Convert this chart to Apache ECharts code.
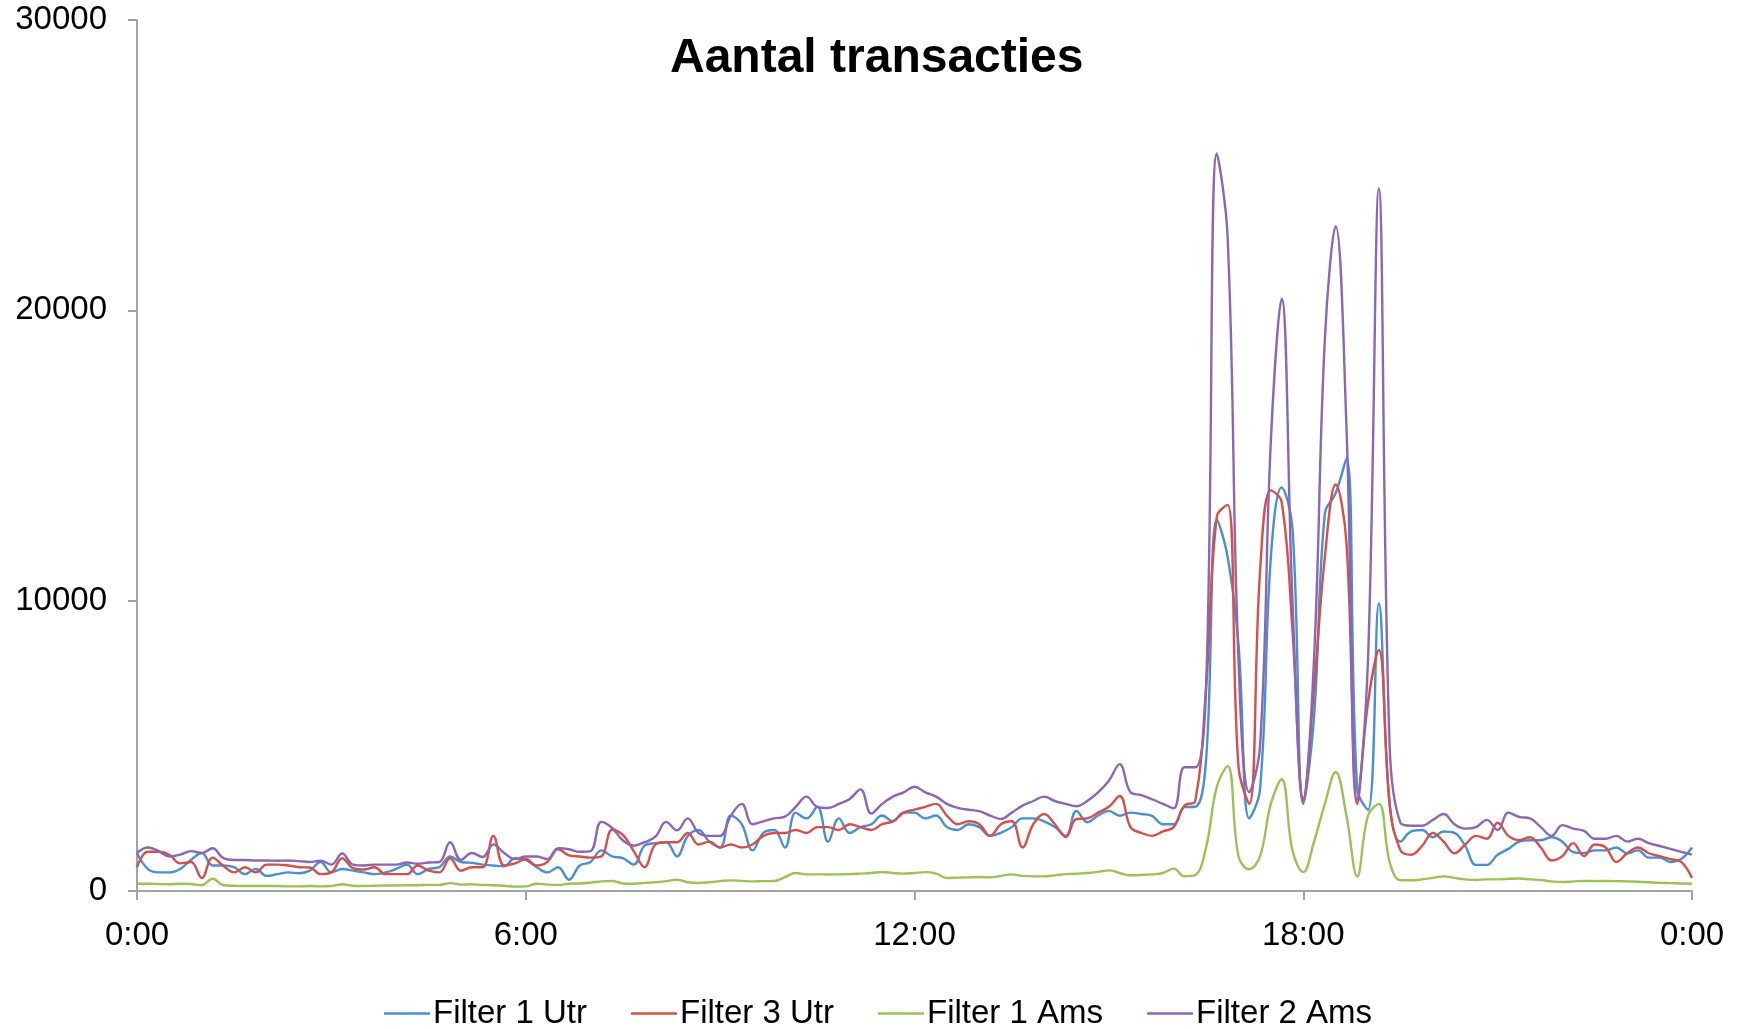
<!DOCTYPE html>
<html>
<head>
<meta charset="utf-8">
<script src="https://cdn.jsdelivr.net/npm/echarts@6/dist/echarts.min.js"></script>
<style>
html,body{margin:0;padding:0;background:#fff;}
#chart{width:1737px;height:1029px;}
</style>
</head>
<body>
<div id="chart"></div>
<script>
// time step: 10 minutes, from 0:00 to 24:00 (145 points)
const stepMinutes = 10;
const xTicks = ['0:00', '6:00', '12:00', '18:00', '0:00'];
const seriesNames = ['Filter 1 Utr', 'Filter 3 Utr', 'Filter 1 Ams', 'Filter 2 Ams'];

const filter1Utr = [
  1310, 760, 640, 640, 760, 1070,
  1310, 880, 880, 820, 580, 760,
  520, 580, 640, 610, 700, 1000,
  640, 760, 700, 640, 580, 640,
  760, 910, 580, 760, 820, 1190,
  1000, 970, 910, 880, 850, 1130,
  1070, 820, 640, 820, 390, 880,
  1000, 1400, 1190, 1130, 910, 1560,
  1650, 1680, 1190, 1890, 2100, 1700,
  1500, 2600, 2300, 1400, 2000, 2100,
  1500, 2700, 2500, 2900, 1700, 2500,
  2000, 2200, 2300, 2600, 2400, 2700,
  2700, 2500, 2600, 2200, 2100, 2300,
  2200, 1900, 2000, 2200, 2500, 2500,
  2400, 2200, 1900, 2760, 2370, 2600,
  2760, 2590, 2700, 2650, 2590, 2300,
  2300, 2890, 2900, 4500, 12800, 11500,
  8500, 2500, 3500, 11500, 13900, 12500,
  3000, 6000, 13000, 13700, 14900, 3500,
  2800, 9900, 3000, 1700, 2050, 2100,
  1850, 2050, 2000, 1550, 900, 900,
  1250, 1450, 1700, 1750, 1750, 1850,
  1700, 1340, 1310, 1400, 1400, 1500,
  1300, 1400, 1150, 1150, 1000, 1100,
  1500
];

const filter3Utr = [
  820, 1350, 1350, 1250, 950, 1000,
  450, 1150, 860, 640, 820, 640,
  910, 910, 880, 820, 810, 580,
  640, 1130, 790, 740, 820, 580,
  580, 580, 880, 700, 640, 1130,
  700, 820, 820, 1900, 880, 950,
  1100, 880, 1000, 1440, 1230, 1190,
  1150, 1190, 2110, 1930, 1375, 820,
  1600, 1680, 1680, 2000, 1600, 1700,
  1500, 1600, 1500, 1600, 1900, 2000,
  2000, 2100, 2000, 2200, 2200, 2100,
  2300, 2200, 2100, 2300, 2400, 2700,
  2800, 2900, 3000, 2600, 2300, 2400,
  2300, 1900, 2300, 2400, 1500, 2300,
  2650, 2300, 1860, 2480, 2500, 2700,
  2900, 3270, 2200, 2000, 1900, 2050,
  2200, 2940, 3100, 7000, 12900, 13300,
  4300, 3000, 11000, 13800, 13400, 9000,
  3100, 7000, 11500, 14000, 12000, 3000,
  6500, 8300, 3000, 1400, 1250, 1550,
  2000, 1700, 1300, 1600, 1900, 1800,
  2350, 1900, 1750, 1850, 1500, 1050,
  1200, 1650, 1200, 1600, 1500, 1000,
  1300, 1500, 1300, 1200, 1100, 1000,
  450
];

const filter1Ams = [
  250, 250, 240, 230, 250, 240,
  200, 420, 200, 180, 170, 170,
  170, 170, 160, 160, 170, 160,
  170, 230, 180, 170, 180, 190,
  190, 200, 200, 210, 210, 270,
  220, 230, 210, 200, 180, 150,
  160, 250, 220, 210, 250, 260,
  290, 330, 344, 260, 250, 280,
  300, 340, 390, 300, 275, 300,
  340, 367, 350, 330, 340, 344,
  480, 620, 574, 574, 570, 574,
  580, 600, 620, 654, 620, 600,
  620, 650, 600, 450, 460, 470,
  480, 470, 520, 574, 520, 505,
  505, 540, 580, 596, 620, 660,
  711, 620, 540, 550, 574, 620,
  770, 505, 550, 1500, 3600, 4300,
  1200, 750, 1200, 3000, 3850, 1400,
  650, 1700, 3000, 4100, 2600, 500,
  2600, 3000, 1000, 370, 370, 400,
  450, 505, 450, 400, 380, 400,
  400, 420, 430, 400, 380, 330,
  310, 330, 350, 340, 344, 340,
  330, 320, 300, 280, 270, 260,
  250
];

const filter2Ams = [
  1310, 1500, 1375, 1190, 1250, 1375,
  1310, 1470, 1130, 1070, 1070, 1050,
  1050, 1040, 1050, 1030, 1000, 1040,
  910, 1290, 910, 880, 910, 910,
  910, 980, 940, 980, 1000, 1680,
  1070, 1310, 1170, 1600, 1310, 1100,
  1190, 1190, 1100, 1470, 1440, 1350,
  1375, 2380, 2170, 1740, 1560, 1680,
  1870, 2380, 2090, 2500, 2000, 1900,
  1900, 2600, 3000, 2300, 2400, 2500,
  2560, 2900, 3250, 2900, 2860, 3000,
  3170, 3500, 2670, 3000, 3250, 3400,
  3590, 3400, 3250, 3000, 2860, 2800,
  2750, 2600, 2480, 2700, 2940, 3100,
  3250, 3100, 3000, 2920, 3100, 3400,
  3800, 4370, 3400, 3300, 3160, 3000,
  2850, 4260, 4260, 7000, 25400, 22500,
  8000, 3400, 5000, 15500, 20400, 10000,
  3200, 8000, 19000, 22900, 16000, 3100,
  8000, 24200, 5000, 2350, 2250, 2250,
  2450, 2650, 2300, 2150, 2200, 2450,
  2100, 2700, 2550, 2500, 2200, 1900,
  2270, 2150, 2070, 1800, 1800, 1900,
  1700, 1800, 1650, 1550, 1450, 1350,
  1250
];

const colors = ['#4A8FCF', '#D5504A', '#9BC257', '#8B67B3'];
const seriesValues = [filter1Utr, filter3Utr, filter1Ams, filter2Ams];

function toPairs(values) {
  return values.map((v, i) => [i * stepMinutes, v]);
}

const chart = echarts.init(document.getElementById('chart'), null, {renderer: 'canvas'});
const font = '"Liberation Sans", Arial, Helvetica, sans-serif';

chart.setOption({
  animation: false,
  backgroundColor: '#ffffff',
  color: colors,
  title: {
    text: 'Aantal transacties',
    left: 670,
    top: 35,
    padding: 0,
    textStyle: {fontFamily: font, fontSize: 48, fontWeight: 'bold', color: '#000'}
  },
  legend: {
    data: seriesNames.map(n => ({name: n, icon: 'rect'})),
    left: 384,
    top: 997,
    itemWidth: 46,
    itemHeight: 2.5,
    itemGap: 44,
    padding: 0,
    textStyle: {fontFamily: font, fontSize: 33, color: '#000', padding: [0, 0, 0, -2]}
  },
  grid: {left: 137, right: 45, top: 20, bottom: 138, containLabel: false},
  xAxis: {
    type: 'value',
    min: 0,
    max: 1440,
    interval: 360,
    splitLine: {show: false},
    axisLine: {show: true, lineStyle: {color: '#a3a3a3', width: 2}},
    axisTick: {show: true, length: 9, lineStyle: {color: '#a3a3a3', width: 2}},
    axisLabel: {
      margin: 28,
      fontFamily: font, fontSize: 33, color: '#000',
      formatter: function (v) { return xTicks[Math.round(v / 360)]; }
    }
  },
  yAxis: {
    type: 'value',
    min: 0,
    max: 30000,
    interval: 10000,
    splitLine: {show: false},
    axisLine: {show: true, lineStyle: {color: '#a3a3a3', width: 2}},
    axisTick: {show: true, length: 9, lineStyle: {color: '#a3a3a3', width: 2}},
    axisLabel: {
      margin: 30, fontFamily: font, fontSize: 33, color: '#000',
      padding: [7, 0, 0, 0],
      formatter: function (v) { return String(v); }
    }
  },
  series: seriesNames.map((name, k) => ({
    name: name,
    type: 'line',
    data: toPairs(seriesValues[k]),
    smooth: 0.4,
    symbol: 'none',
    showSymbol: false,
    lineStyle: {width: 2.4, color: colors[k]},
    itemStyle: {color: colors[k]}
  }))
});
</script>
</body>
</html>
